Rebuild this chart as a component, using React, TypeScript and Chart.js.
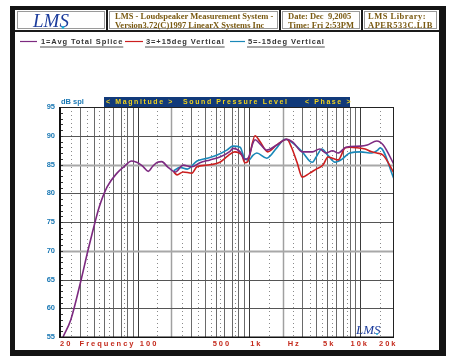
import React, { useEffect, useRef } from "react";
import { Chart, registerables } from "chart.js";

Chart.register(...registerables);

// ---- Data ----
const avgFreq = [21.3, 25, 31, 35.6, 39.6, 45, 53, 65, 75, 88, 100, 112, 124, 136, 150, 164, 185, 205, 218, 255, 306, 361, 445, 546, 673, 716, 830, 913, 985, 1080, 1130, 1250, 1440, 1770, 2180, 2470, 3000, 3700, 4300, 4900, 5600, 6300, 7400, 10000, 11500, 14000, 16000, 20000];
const avgDb = [55, 58, 65, 70, 73.6, 77.6, 81.1, 83.5, 84.6, 85.6, 85.3, 84.6, 83.8, 84.7, 85.4, 85.5, 84.6, 83.9, 83.7, 84.9, 84.6, 85.3, 85.8, 86.3, 87.3, 87.8, 87.2, 85.9, 86.2, 88.7, 89.3, 88.6, 87.5, 88.4, 89.4, 88.9, 87.2, 87.2, 87.7, 87.0, 87.4, 87.0, 88.0, 88.2, 88.4, 89.1, 88.4, 85.0];

const upFreq = [210, 225, 255, 306, 340, 420, 546, 645, 740, 860, 913, 970, 1130, 1250, 1470, 1770, 2180, 2400, 2700, 3000, 3500, 4000, 4600, 5100, 5600, 6300, 7300, 8000, 9300, 11000, 12600, 14000, 16000, 20000];
const upDb = [83.7, 83.2, 83.7, 83.5, 84.6, 84.9, 85.4, 86.5, 87.2, 86.6, 85.3, 85.5, 90.0, 89.0, 87.2, 88.4, 89.4, 88.0, 85.3, 82.8, 83.5, 84.2, 84.9, 86.3, 86.1, 85.8, 87.9, 88.0, 87.9, 87.7, 87.2, 87.0, 86.6, 83.5];

const downFreq = [210, 240, 278, 340, 420, 510, 630, 716, 830, 913, 1000, 1080, 1170, 1440, 1770, 2100, 2400, 3000, 3500, 3700, 4000, 4500, 5100, 5900, 6800, 8000, 10000, 12600, 14300, 15000, 20000];
const downDb = [83.9, 84.5, 84.2, 85.6, 86.1, 86.6, 87.5, 88.2, 88.0, 86.0, 85.8, 86.6, 87.0, 86.1, 87.9, 89.4, 88.9, 87.2, 85.6, 85.4, 86.3, 87.7, 86.6, 85.4, 85.9, 87.0, 87.2, 87.0, 87.5, 87.9, 82.5];

const seriesLabels = ["1=Avg Total Splice", "3=+15deg Vertical", "5=-15deg Vertical"];
const seriesColors = ["#7d2a80", "#cc1f1f", "#1a88b8"];

const yTicks = [55, 60, 65, 70, 75, 80, 85, 90, 95];
const xLabels = ["20", "Frequency", "100", "500", "1k", "Hz", "5k", "10k", "20k"];
const xLabelFreqs = [20, 30, 100, 500, 1000, 2000, 5000, 10000, 20000];
const xLabelShift = [0, 0, 2, -3, 1, 5, -4, -10, -15];

const headerTitle = ["LMS - Loudspeaker Measurement System -", "Version3.72(C)1997 LinearX Systems Inc"];
const headerDate = ["Date: Dec  9,2005", "Time: Fri 2:53PM"];
const headerLib = ["LMS Library:", "APER533C.LIB"];

const toPoints = (f: number[], v: number[]) => f.map((x, i) => ({ x, y: v[i] }));

function setSpacing(ctx: any, s: string) {
  try { ctx.letterSpacing = s; } catch (e) { /* ignore */ }
}

const decorPlugin = {
  id: "lmsDecor",
  beforeDraw(chart: any) {
    const ctx = chart.ctx;
    ctx.save();
    ctx.fillStyle = "#ffffff";
    ctx.fillRect(0, 0, chart.width, chart.height);
    // outer frame
    ctx.fillStyle = "#141414";
    ctx.fillRect(10, 6, 436, 350);
    ctx.fillStyle = "#ffffff";
    ctx.fillRect(15, 10, 424, 340);

    // header cells
    const cells = [[15, 107], [107, 280], [280, 362], [362, 439]];
    ctx.strokeStyle = "#9a9a9a";
    ctx.lineWidth = 1;
    cells.forEach(([a, b]) => {
      ctx.strokeRect(a + 2.5, 11.5, b - a - 5, 17);
    });
    ctx.fillStyle = "#1a1a1a";
    ctx.fillRect(15, 30, 424, 2);
    [107, 280, 362].forEach((xx) => ctx.fillRect(xx - 1, 10, 2, 21));

    // header texts
    ctx.fillStyle = "#7a5a12";
    ctx.font = 'bold 8.5px "Liberation Serif"';
    ctx.textBaseline = "alphabetic";
    ctx.textAlign = "left";
    ctx.fillText(headerTitle[0], 115, 19);
    ctx.fillText(headerTitle[1], 115, 28);
    ctx.fillText(headerDate[0], 288, 19);
    ctx.fillText(headerDate[1], 288, 28);
    setSpacing(ctx, "0.5px");
    ctx.fillText(headerLib[0], 368, 19);
    ctx.fillText(headerLib[1], 368, 28);
    setSpacing(ctx, "0px");

    // logo
    ctx.fillStyle = "#1c3c9c";
    ctx.font = 'italic 19px "Liberation Serif"';
    ctx.fillText("LMS", 33, 27);
    ctx.fillStyle = "#20b0d8";
    ctx.beginPath();
    ctx.arc(63, 27.5, 1.4, 0, Math.PI * 2);
    ctx.fill();

    // legend
    const legendX = [[20, 37, 41], [125, 143, 146], [230, 245, 248]];
    ctx.font = 'bold 7.5px "Liberation Sans"';
    setSpacing(ctx, "0.9px");
    chart.data.datasets.forEach((ds: any, i: number) => {
      const [l0, l1, tx] = legendX[i];
      ctx.strokeStyle = ds.borderColor;
      ctx.lineWidth = 1.2;
      ctx.beginPath();
      ctx.moveTo(l0, 41.5);
      ctx.lineTo(l1, 41.5);
      ctx.stroke();
      ctx.fillStyle = "#333333";
      ctx.fillText(ds.label, tx, 44);
      const w = ctx.measureText(ds.label).width;
      ctx.fillStyle = "#a8a8a8";
      ctx.fillRect(tx - 1, 46, w + 1, 2);
    });
    setSpacing(ctx, "0px");

    // banner
    ctx.fillStyle = "#113a7a";
    ctx.fillRect(104, 97, 246, 10);
    ctx.fillStyle = "#f2d41c";
    ctx.font = 'bold 7px "Liberation Sans"';
    ctx.textBaseline = "middle";
    setSpacing(ctx, "1.6px");
    ctx.fillText("< Magnitude >", 106, 102.5);
    ctx.fillText("Sound Pressure Level", 183, 102.5);
    ctx.fillText("< Phase >", 305, 102.5);
    setSpacing(ctx, "0px");

    ctx.fillStyle = "#1a78b4";
    ctx.font = 'bold 7.5px "Liberation Sans"';
    ctx.fillText("dB spl", 61, 101.5);
    ctx.restore();
  },
  beforeDatasetsDraw(chart: any) {
    const ctx = chart.ctx;
    const { left, right, top, bottom } = chart.chartArea;
    const xs = chart.scales.x;
    const ys = chart.scales.y;
    ctx.save();
    // vertical dotted lines
    ctx.setLineDash([1, 3]);
    ctx.strokeStyle = "#8a8a8a";
    ctx.lineWidth = 1;
    [10, 100, 1000, 10000].forEach((d) => {
      [1.5, 2.5, 3.5, 4.5, 5.5, 7.5].forEach((m) => {
        const f = m * d;
        if (f <= 20 || f >= 20000) return;
        const px = Math.round(xs.getPixelForValue(f)) + 0.5;
        ctx.beginPath();
        ctx.moveTo(px, top);
        ctx.lineTo(px, bottom);
        ctx.stroke();
      });
    });
    ctx.setLineDash([]);
    // vertical solid lines
    [10, 100, 1000, 10000].forEach((d) => {
      for (let n = 1; n <= 9; n++) {
        const f = n * d;
        if (f <= 20 || f >= 20000) continue;
        const px = Math.round(xs.getPixelForValue(f)) + 0.5;
        if (n === 2) { ctx.strokeStyle = "#a0a0a0"; ctx.lineWidth = 1.5; }
        else if (n === 1) { ctx.strokeStyle = "#3a3a3a"; ctx.lineWidth = 1; }
        else { ctx.strokeStyle = "#6a6a6a"; ctx.lineWidth = 1; }
        ctx.beginPath();
        ctx.moveTo(px, top);
        ctx.lineTo(px, bottom);
        ctx.stroke();
      }
    });
    // horizontal lines
    yTicks.forEach((v) => {
      const py = Math.round(ys.getPixelForValue(v)) + 0.5;
      if (v === 85 || v === 70) { ctx.strokeStyle = "#a8a8a8"; ctx.lineWidth = 2; }
      else { ctx.strokeStyle = "#555555"; ctx.lineWidth = 1; }
      ctx.beginPath();
      ctx.moveTo(left, py);
      ctx.lineTo(right, py);
      ctx.stroke();
    });
    // minor ticks on left axis
    ctx.strokeStyle = "#333";
    ctx.lineWidth = 1;
    for (let v = 56; v < 95; v++) {
      const py = Math.round(ys.getPixelForValue(v)) + 0.5;
      ctx.beginPath();
      ctx.moveTo(left, py);
      ctx.lineTo(left + 3, py);
      ctx.stroke();
    }
    ctx.restore();
  },
  afterDatasetsDraw(chart: any) {
    const ctx = chart.ctx;
    const { left, right, top, bottom } = chart.chartArea;
    const xs = chart.scales.x;
    ctx.save();
    ctx.strokeStyle = "#222";
    ctx.lineWidth = 1;
    ctx.strokeRect(left + 0.5, top + 0.5, right - left - 1, bottom - top);
    ctx.fillStyle = "#111";
    ctx.fillRect(left - 1, top, 2, bottom - top + 1);
    ctx.fillRect(left, bottom - 0.5, right - left, 1.5);

    // x labels
    ctx.fillStyle = "#c42a1c";
    ctx.font = 'bold 7.5px "Liberation Sans"';
    ctx.textAlign = "left";
    ctx.textBaseline = "middle";
    setSpacing(ctx, "2px");
    xLabels.forEach((t, i) => {
      const px = xs.getPixelForValue(xLabelFreqs[i]) + xLabelShift[i];
      ctx.fillText(t, px, 343.5);
    });
    setSpacing(ctx, "0px");

    // small logo
    ctx.fillStyle = "#1c3c9c";
    ctx.font = 'italic 13px "Liberation Serif"';
    ctx.textBaseline = "alphabetic";
    ctx.fillText("LMS", 356, 334);
    ctx.fillStyle = "#20b0d8";
    ctx.beginPath();
    ctx.arc(377, 334, 1, 0, Math.PI * 2);
    ctx.fill();
    ctx.restore();
  },
};

export default function App() {
  const ref = useRef<HTMLCanvasElement | null>(null);
  useEffect(() => {
    document.body.style.margin = "0";
    const canvas = ref.current;
    if (!canvas) return;
    const mk = (i: number, f: number[], v: number[]) => ({
      label: seriesLabels[i],
      data: toPoints(f, v),
      borderColor: seriesColors[i],
      backgroundColor: seriesColors[i],
      borderWidth: 1.6,
      pointRadius: 0,
      cubicInterpolationMode: "monotone" as const,
      fill: false,
    });
    const chart = new Chart(canvas, {
      type: "line",
      data: {
        datasets: [mk(2, downFreq, downDb), mk(0, avgFreq, avgDb), mk(1, upFreq, upDb)].sort((a, b) => seriesLabels.indexOf(a.label) - seriesLabels.indexOf(b.label)),
      },
      options: {
        animation: false,
        responsive: false,
        devicePixelRatio: 1,
        layout: { padding: { left: 10, right: 56, top: 107, bottom: 26 } },
        plugins: { legend: { display: false }, tooltip: { enabled: false } },
        scales: {
          x: {
            type: "logarithmic",
            min: 20,
            max: 20000,
            grid: { display: false },
            border: { display: false },
            ticks: { display: false },
            afterFit: (s: any) => { s.height = 0; },
          },
          y: {
            min: 55,
            max: 95,
            afterBuildTicks: (s: any) => { s.ticks = yTicks.map((v) => ({ value: v })); },
            ticks: {
              color: "#1a78b4",
              padding: 5,
              font: { family: "Liberation Sans", weight: "bold", size: 7.5 },
            },
            grid: { display: false, drawTicks: false },
            border: { display: false },
            afterFit: (s: any) => { s.width = 50; },
          },
        },
      },
      plugins: [decorPlugin],
    } as any);
    return () => chart.destroy();
  }, []);
  return (
    <div style={{ position: "absolute", left: 0, top: 0, width: 450, height: 363 }}>
      <canvas ref={ref} width={450} height={363} style={{ display: "block" }} />
    </div>
  );
}
